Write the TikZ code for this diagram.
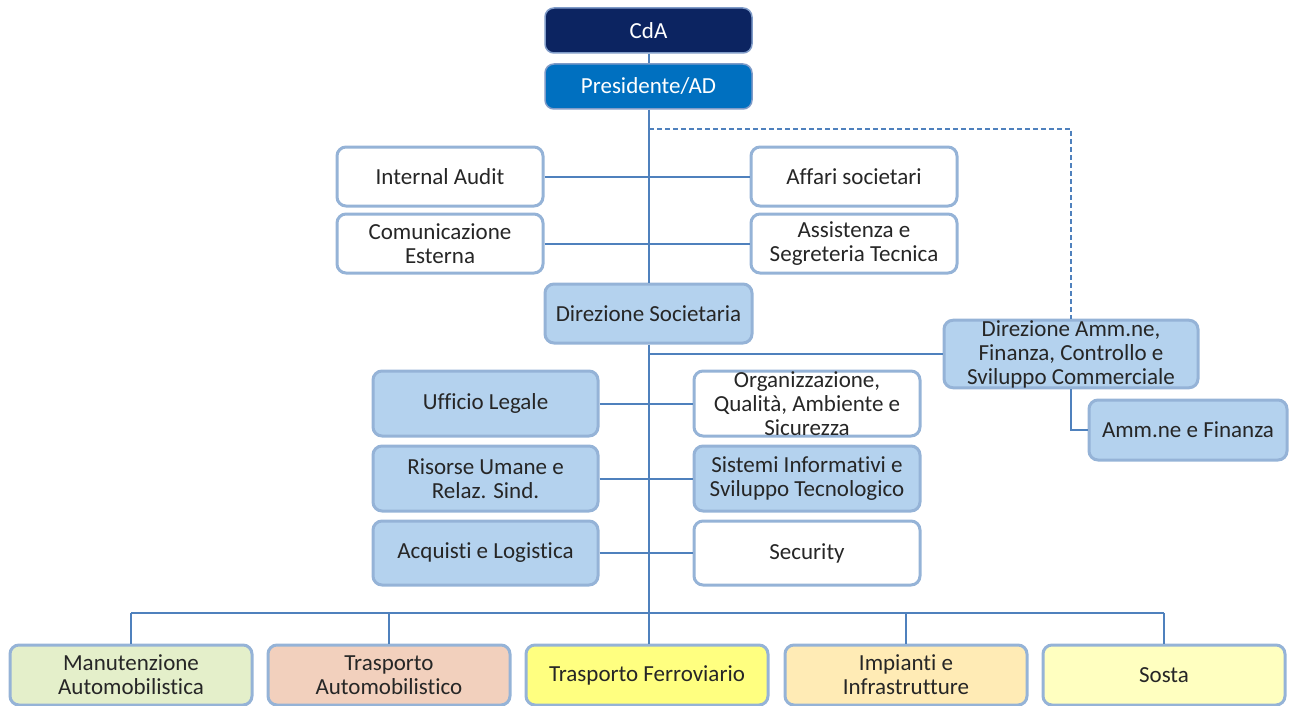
\documentclass[tikz,border=0pt]{standalone}
\usepackage{fontspec}
\setmainfont[Ligatures={NoCommon}]{Carlito}
\definecolor{navy}{HTML}{0C2461}
\definecolor{pres}{HTML}{0070C0}
\definecolor{topbord}{HTML}{7F9BC8}
\definecolor{lblue}{HTML}{B4D2EE}
\definecolor{bord}{HTML}{95B3D7}
\definecolor{linec}{HTML}{4F81BD}
\definecolor{txt}{HTML}{262626}
\definecolor{cgreen}{HTML}{E4EFCA}
\definecolor{cpeach}{HTML}{F2D0BD}
\definecolor{cyel}{HTML}{FFFF80}
\definecolor{corange}{HTML}{FFEBB5}
\definecolor{clyel}{HTML}{FFFFC0}
\begin{document}
\begin{tikzpicture}[x=1pt,y=-1pt,
  box/.style={draw=bord, line width=3pt, rounded corners=9pt, fill=white,
    align=center, inner sep=0pt, text=txt,
    font=\fontsize{23}{24}\selectfont},
  topbox/.style={box, draw=topbord, line width=1.5pt, text=white, minimum width=207pt, minimum height=45pt},
  conn/.style={draw=linec, line width=2pt},
  dconn/.style={draw=linec, line width=2pt, dash pattern=on 5pt off 3pt},
]
\useasboundingbox (0,0) rectangle (1292,706);

% top
\node[topbox, fill=navy] (cda) at (648.5,30.5) {CdA};
\node[topbox, fill=pres] (pres) at (648.5,86.5) {Presidente/AD};

% staff
\node[box, minimum width=206pt, minimum height=59pt] (ia) at (440,176.5) {Internal Audit};
\node[box, minimum width=206pt, minimum height=59pt] (as) at (854,176.5) {Affari societari};
\node[box, minimum width=206pt, minimum height=59pt] (ce) at (440,243.5) {Comunicazione\\Esterna};
\node[box, minimum width=206pt, minimum height=59pt] (ast) at (854,243.5) {Assistenza e\\Segreteria Tecnica};

\node[box, fill=lblue, minimum width=207pt, minimum height=59pt] (ds) at (648.5,313.5) {Direzione Societaria};

\node[box, fill=lblue, minimum width=254pt, minimum height=64pt] (dafc) at (1071,354) {Direzione Amm.ne,\\Finanza, Controllo e\\Sviluppo Commerciale};
\node[box, fill=lblue, minimum width=198pt, minimum height=60pt] (af) at (1188,430) {Amm.ne e Finanza};

\node[box, fill=lblue, minimum width=225pt, minimum height=65pt] (ul) at (485.5,403.5) {Ufficio Legale};
\node[box, minimum width=226pt, minimum height=65pt] (oq) at (807,403.5) {Organizzazione,\\Qualità, Ambiente e\\Sicurezza};
\node[box, fill=lblue, minimum width=225pt, minimum height=65pt] (ru) at (485.5,478.5) {Risorse Umane e\\Relaz. Sind.};
\node[box, fill=lblue, minimum width=226pt, minimum height=65pt] (si) at (807,478.5) {Sistemi Informativi e\\Sviluppo Tecnologico};
\node[box, fill=lblue, minimum width=225pt, minimum height=64pt] (al) at (485.5,553) {Acquisti e Logistica};
\node[box, minimum width=226pt, minimum height=64pt] (se) at (807,553) {Security};

% bottom
\node[box, fill=cgreen, minimum width=242pt, minimum height=60pt] (ma) at (131,675) {Manutenzione\\Automobilistica};
\node[box, fill=cpeach, minimum width=242pt, minimum height=60pt] (ta) at (389,675) {Trasporto\\Automobilistico};
\node[box, fill=cyel, minimum width=242pt, minimum height=60pt] (tf) at (647,675) {Trasporto Ferroviario};
\node[box, fill=corange, minimum width=242pt, minimum height=60pt] (ii) at (906,675) {Impianti e\\Infrastrutture};
\node[box, fill=clyel, minimum width=242pt, minimum height=60pt] (so) at (1164,675) {Sosta};

\coordinate (d1) at (649,129);
\coordinate (bus) at (649,613);

% connectors
\draw[conn] (cda.south -| d1) -- (pres.north -| d1);
\draw[conn] (pres.south -| d1) -- (ds.north -| d1);
\draw[conn] (ds.south -| d1) -- (bus);
\draw[conn] (ia.east) -- (as.west);
\draw[conn] (ce.east) -- (ast.west);
\draw[dconn] (d1) -| (dafc.north);
\draw[conn] (dafc.west) -- (dafc.west -| d1);
\draw[conn] (dafc.south) |- (af.west);
\draw[conn] (ul.east) -- (oq.west);
\draw[conn] (ru.east) -- (si.west);
\draw[conn] (al.east) -- (se.west);
\draw[conn] (ma.north |- bus) -- (so.north |- bus);
\draw[conn] (ma.north) -- (ma.north |- bus);
\draw[conn] (ta.north) -- (ta.north |- bus);
\draw[conn] (tf.north -| bus) -- (bus);
\draw[conn] (ii.north) -- (ii.north |- bus);
\draw[conn] (so.north) -- (so.north |- bus);
\end{tikzpicture}
\end{document}
